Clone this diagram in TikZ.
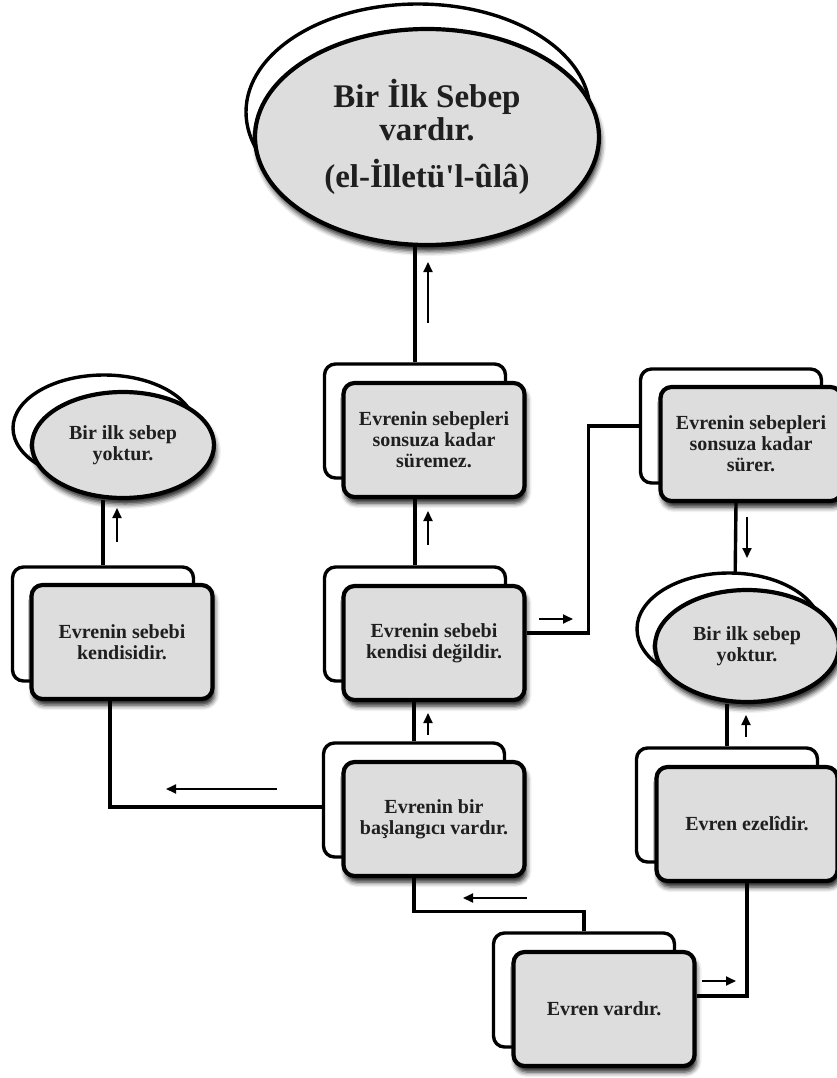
\documentclass[tikz,border=0pt]{standalone}
\usepackage{fontspec}
\setmainfont{Liberation Serif}
\usetikzlibrary{shapes.geometric,shadows.blur,backgrounds,arrows.meta}

\begin{document}
\begin{tikzpicture}[x=1pt,y=-1pt,>={Triangle[length=10pt,width=9pt]}, line join=round,
	kutu/.style={draw=black,line width=3.4pt,rounded corners=11pt,minimum width=181pt,minimum height=114pt,inner sep=0pt},
	arkakutu/.style={kutu,fill=white},
	golge/.style={blur shadow={shadow xshift=2pt,shadow yshift=-6pt,shadow blur radius=5pt,shadow opacity=90}},
	onkutu/.style={kutu,line width=4.2pt,fill=gray!27,golge,text=black!88,align=center,font=\bfseries\fontsize{20}{21}\selectfont},
	arkaelips/.style={ellipse,draw=black,line width=3.4pt,fill=white,inner sep=0pt},
	onelips/.style={ellipse,draw=black,line width=4.2pt,fill=gray!27,golge,text=black!88,inner sep=0pt,align=center,font=\bfseries\fontsize{20}{21}\selectfont},
	hat/.style={draw=black,line width=3.4pt},
	yon/.style={->,line width=1.8pt}]
	\useasboundingbox (0,0) rectangle (837,1078);
	% ilk sebep
	\node[arkaelips,minimum width=344pt,minimum height=216pt] (ilkB) at (418,112) {};
	\node[onelips,minimum width=344pt,minimum height=216pt,font=\bfseries\fontsize{33}{33}\selectfont] (ilk) at (427,137) {Bir İlk Sebep\\vardır.\\[14pt](el-İlletü\textquotesingle l-ûlâ)};
	\node[arkaelips,minimum width=182pt,minimum height=106pt] (solB) at (104,428) {};
	\node[onelips,minimum width=182pt,minimum height=106pt] (sol) at (123,445) {Bir ilk sebep\\yoktur.};
	\node[arkaelips,minimum width=184pt,minimum height=112pt] (sagB) at (729,629) {};
	\node[onelips,minimum width=184pt,minimum height=112pt] (sag) at (747,646) {Bir ilk sebep\\yoktur.};
	% kutular
	\node[arkakutu] (suremezB) at (415,421) {};
	\node[onkutu] (suremez) at (434,440) {Evrenin sebepleri\\sonsuza kadar\\süremez.};
	\node[arkakutu] (degilB) at (415,624) {};
	\node[onkutu] (degil) at (434,643) {Evrenin sebebi\\kendisi değildir.};
	\node[arkakutu] (baslangicB) at (414,800) {};
	\node[onkutu] (baslangic) at (434,819) {Evrenin bir\\başlangıcı vardır.};
	\node[arkakutu] (kendiB) at (103,624) {};
	\node[onkutu] (kendi) at (122,642) {Evrenin sebebi\\kendisidir.};
	\node[arkakutu] (surerB) at (731,426) {};
	\node[onkutu] (surer) at (751,444) {Evrenin sebepleri\\sonsuza kadar\\sürer.};
	\node[arkakutu] (ezeliB) at (727,805) {};
	\node[onkutu] (ezeli) at (747,824) {Evren ezelîdir.};
	\node[arkakutu] (vardirB) at (584,990) {};
	\node[onkutu] (vardir) at (604,1009) {Evren vardır.};
	% baglantilar
	\begin{scope}[on background layer]
		\draw[hat] (suremezB.north) -- (suremezB.north |- ilk.south);
		\draw[hat] (degilB.north) -- (degilB.north |- suremez.south);
		\draw[hat] (baslangicB.north) -- (baslangicB.north |- degil.south);
		\draw[hat] (kendiB.north) -- (kendiB.north |- sol.south);
		\draw[hat] ([yshift=-7pt]baslangicB.west) -| ([xshift=-12pt]kendi.south);
		\draw[hat] (vardirB.north) -- ++(0,-20) -| (baslangicB.south |- baslangic.south);
		\draw[hat] ([yshift=13pt]vardir.east) -| (ezeli.south);
		\draw[hat] (ezeliB.north) -- (ezeliB.north |- sag.south);
		\draw[hat] ([xshift=-15pt]surer.south) -- ([xshift=-12pt]sag.north);
		\draw[hat] ([yshift=10pt]degil.east) -- ++(62,0) |- (surerB.west);
	\end{scope}
	% yon oklari
	\draw[yon] (428,323) -- (428,262);
	\draw[yon] (428,545) -- (428,511);
	\draw[yon] (428,735) -- (428,713);
	\draw[yon] (117,542) -- (117,508);
	\draw[yon] (277,789) -- (166,789);
	\draw[yon] (527,898) -- (463,898);
	\draw[yon] (702,981) -- (736,981);
	\draw[yon] (746,737) -- (746,715);
	\draw[yon] (747,517) -- (747,558);
	\draw[yon] (539,619) -- (573,619);
\end{tikzpicture}
\end{document}
